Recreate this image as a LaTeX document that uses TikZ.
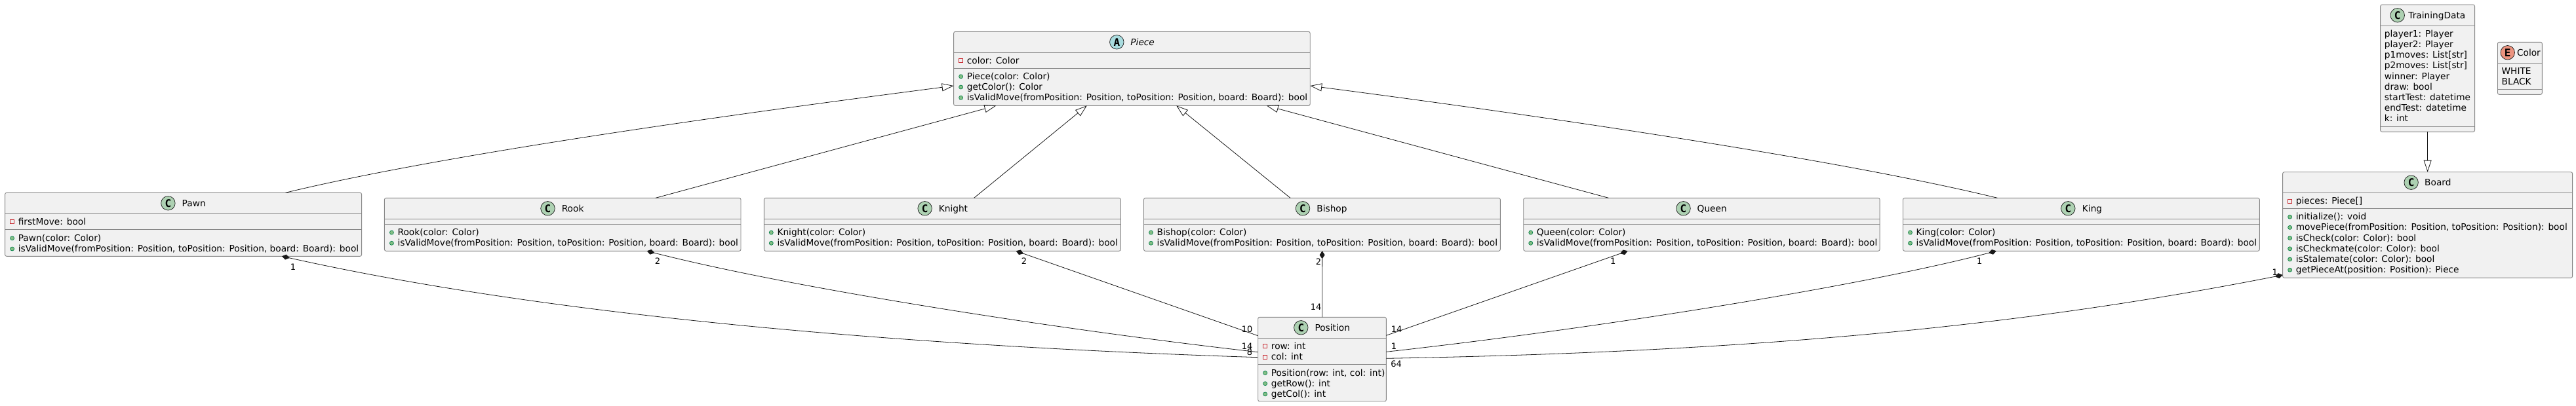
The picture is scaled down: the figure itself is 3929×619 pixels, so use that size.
\documentclass[tikz,border=0pt]{standalone}
\usepackage{fontspec}
\setmainfont{DejaVu Sans}
\newfontfamily\badgefont{DejaVu Sans Mono}
\usetikzlibrary{arrows.meta}

\definecolor{boxfill}{HTML}{F1F1F1}
\definecolor{boxline}{HTML}{858585}
\definecolor{inkline}{HTML}{181818}
\definecolor{badgeC}{HTML}{ADD1B2}
\definecolor{badgeA}{HTML}{A9DCDF}
\definecolor{badgeE}{HTML}{EB937F}
\definecolor{privline}{HTML}{C82930}
\definecolor{pubfill}{HTML}{84BE84}
\definecolor{publine}{HTML}{038048}

\tikzset{
	classbody/.style={draw=boxline, fill=boxfill, line width=0.9pt, rounded corners=2.5pt, inner sep=0pt, outer sep=0pt, anchor=north west},
	compart/.style={draw=boxline, line width=0.9pt},
	badge/.style={circle, draw=inkline, line width=0.7pt, minimum size=21.5pt, inner sep=0pt, font=\badgefont\bfseries\fontsize{16}{16}\selectfont},
	titletext/.style={anchor=base west, inner sep=0pt, font=\fontsize{13.72}{16}\selectfont},
	member/.style={anchor=base west, inner sep=0pt, font=\fontsize{13.72}{16}\selectfont},
	privmark/.style={rectangle, draw=privline, line width=0.7pt, minimum size=6pt, inner sep=0pt},
	pubmark/.style={circle, draw=publine, fill=pubfill, line width=0.7pt, minimum size=6pt, inner sep=0pt},
	multlabel/.style={inner sep=0pt, font=\fontsize{13}{15}\selectfont},
	extendsedge/.style={draw=inkline, line width=0.8pt, -{Triangle[open, length=18pt, width=12pt]}},
	partedge/.style={draw=inkline, line width=0.8pt, {Diamond[length=12pt, width=8pt]}-},
}

% name, left, top, width, height, offset of second separator
\newcommand{\classbox}[6]{
	\node[classbody, minimum width=#4pt, minimum height=#5pt] (#1) at (#2,#3) {};
	\draw[compart] ([yshift=-32pt]#1.north west) -- ([yshift=-32pt]#1.north east);
	\draw[compart] ([yshift=-#6pt]#1.north west) -- ([yshift=-#6pt]#1.north east);
}
% name, badge x, letter, badge colour, title x, title
\newcommand{\classhead}[6]{
	\path (#1.north west) ++(0,16) coordinate (#1-mid);
	\node[badge, fill=#4] (#1-badge) at (#2,0 |- #1-mid) {#3};
	\path (#5,0 |- #1-mid) ++(0,5) coordinate (#1-base);
	\node[titletext] (#1-title) at (#1-base) {#6};
}
% name, first baseline, list
\newcommand{\privrows}[3]{
	\foreach \txt [count=\i] in {#3} {
		\pgfmathsetmacro{\rowy}{#2+16.2*(\i-1)}
		\node[member] (#1-priv\i) at ([xshift=20pt, yshift=-\rowy pt]#1.north west) {\txt};
		\node[privmark] (#1-privm\i) at ([xshift=11pt, yshift=-\rowy pt+4.5pt]#1.north west) {};
	}
}
\newcommand{\pubrows}[3]{
	\foreach \txt [count=\i] in {#3} {
		\pgfmathsetmacro{\rowy}{#2+16.2*(\i-1)}
		\node[member] (#1-pub\i) at ([xshift=20pt, yshift=-\rowy pt]#1.north west) {\txt};
		\node[pubmark] (#1-pubm\i) at ([xshift=11pt, yshift=-\rowy pt+4.5pt]#1.north west) {};
	}
}
\newcommand{\plainrows}[3]{
	\foreach \txt [count=\i] in {#3} {
		\pgfmathsetmacro{\rowy}{#2+16.2*(\i-1)}
		\node[member] (#1-row\i) at ([xshift=6pt, yshift=-\rowy pt]#1.north west) {\txt};
	}
}

\begin{document}
\begin{tikzpicture}[x=1pt, y=-1pt]
	\useasboundingbox (0,0) rectangle (3929,619);

	% classes
	\classbox{Piece}{1454.6}{48.3}{543.6}{113}{56}
	\classhead{Piece}{1703.3}{A}{badgeA}{1724.2}{\textit{Piece}}
	\privrows{Piece}{49}{{color: Color}}
	\pubrows{Piece}{73}{{Piece(color: Color)},{getColor(): Color},{isValidMove(fromPosition: Position, toPosition: Position, board: Board): bool}}

	\classbox{Pawn}{7.6}{294.3}{544}{97}{56}
	\classhead{Pawn}{256.4}{C}{badgeC}{277.5}{Pawn}
	\privrows{Pawn}{49}{{firstMove: bool}}
	\pubrows{Pawn}{74}{{Pawn(color: Color)},{isValidMove(fromPosition: Position, toPosition: Position, board: Board): bool}}

	\classbox{Rook}{586.4}{302.3}{543.6}{81}{40}
	\classhead{Rook}{835.5}{C}{badgeC}{856.6}{Rook}
	\pubrows{Rook}{57.3}{{Rook(color: Color)},{isValidMove(fromPosition: Position, toPosition: Position, board: Board): bool}}

	\classbox{Knight}{1165.3}{302.3}{544}{81}{40}
	\classhead{Knight}{1410.6}{C}{badgeC}{1431.6}{Knight}
	\pubrows{Knight}{57.3}{{Knight(color: Color)},{isValidMove(fromPosition: Position, toPosition: Position, board: Board): bool}}

	\classbox{Bishop}{1744.5}{302.3}{543.8}{81}{40}
	\classhead{Bishop}{1987}{C}{badgeC}{2008.2}{Bishop}
	\pubrows{Bishop}{57.3}{{Bishop(color: Color)},{isValidMove(fromPosition: Position, toPosition: Position, board: Board): bool}}

	\classbox{Queen}{2323.7}{302.3}{543.4}{81}{40}
	\classhead{Queen}{2567.5}{C}{badgeC}{2588.5}{Queen}
	\pubrows{Queen}{57.3}{{Queen(color: Color)},{isValidMove(fromPosition: Position, toPosition: Position, board: Board): bool}}

	\classbox{King}{2902.5}{302.3}{543.8}{81}{40}
	\classhead{King}{3154.3}{C}{badgeC}{3175.7}{King}
	\pubrows{King}{57.3}{{King(color: Color)},{isValidMove(fromPosition: Position, toPosition: Position, board: Board): bool}}

	\classbox{Position}{1918.7}{484.3}{195.6}{128.7}{72}
	\classhead{Position}{1984.3}{C}{badgeC}{2005.3}{Position}
	\privrows{Position}{49}{{row: int},{col: int}}
	\pubrows{Position}{89.7}{{Position(row: int, col: int)},{getRow(): int},{getCol(): int}}

	\classbox{Board}{3481.6}{262.7}{442}{161.6}{56}
	\classhead{Board}{3677.6}{C}{badgeC}{3698}{Board}
	\privrows{Board}{49}{{pieces: Piece[]}}
	\pubrows{Board}{73}{{initialize(): void},{movePiece(fromPosition: Position, toPosition: Position): bool},{isCheck(color: Color): bool},{isCheckmate(color: Color): bool},{isStalemate(color: Color): bool},{getPieceAt(position: Position): Piece}}

	\classbox{TrainingData}{3630.6}{7.3}{144}{194}{186}
	\classhead{TrainingData}{3656.7}{C}{badgeC}{3673.2}{TrainingData}
	\plainrows{TrainingData}{49}{{player1: Player},{player2: Player},{p1moves: List[str]},{p2moves: List[str]},{winner: Player},{draw: bool},{startTest: datetime},{endTest: datetime},{k: int}}

	\classbox{Color}{3809.4}{64.3}{67.9}{80}{72}
	\classhead{Color}{3824.7}{E}{badgeE}{3838.8}{Color}
	\plainrows{Color}{49}{WHITE,BLACK}

	% inheritance
	\draw[extendsedge] ([xshift=427.9pt]Pawn.north west) .. controls (700,230) and (1200,164) .. ([yshift=-82.7pt]Piece.north west);
	\draw[extendsedge] ([xshift=413.6pt]Rook.north west) -- ([xshift=64.8pt]Piece.south west);
	\draw[extendsedge] ([xshift=320.3pt]Knight.north west) -- ([xshift=203.2pt]Piece.south west);
	\draw[extendsedge] ([xshift=223.5pt]Bishop.north west) -- ([xshift=339.6pt]Piece.south west);
	\draw[extendsedge] ([xshift=129.7pt]Queen.north west) -- ([xshift=477.2pt]Piece.south west);
	\draw[extendsedge] ([xshift=143.9pt]King.north west) .. controls (2774,236) and (2260,165) .. ([yshift=-82.7pt]Piece.north east);
	\draw[extendsedge] (TrainingData.south -| Board.north west) ++(221,0) -- ([xshift=221pt]Board.north west);

	% composition
	\draw[partedge] ([xshift=422.4pt]Pawn.south west) .. controls (850,485) and (1400,529) .. ([yshift=-61.4pt]Position.north west);
	\draw[partedge] ([xshift=400.3pt]Rook.south west) .. controls (1200,438) and (1600,501.7) .. ([yshift=-53.4pt]Position.north west);
	\draw[partedge] ([xshift=384.4pt]Knight.south west) -- ([yshift=-28.4pt]Position.north west);
	\draw[partedge] ([xshift=272.1pt]Bishop.south west) -- ([xshift=98pt]Position.north west);
	\draw[partedge] ([xshift=158.8pt]Queen.south west) -- ([yshift=-28pt]Position.north east);
	\draw[partedge] ([xshift=142.3pt]King.south west) .. controls (2835,438) and (2433,502) .. ([yshift=-53pt]Position.north east);
	\draw[partedge] ([yshift=4.3pt]Board.south west) .. controls (3100,495) and (2700,537) .. ([yshift=-63pt]Position.north east);

	% multiplicities
	\node[multlabel] (lblPawn) at (447,407.7) {1};
	\node[multlabel] (lblRook) at (1003,398.7) {2};
	\node[multlabel] (lblKnight) at (1562,398.7) {2};
	\node[multlabel] (lblBishop) at (2011,399.5) {2};
	\node[multlabel] (lblQueen) at (2460.3,398.7) {1};
	\node[multlabel] (lblKing) at (3019.2,398.7) {1};
	\node[multlabel] (lblBoard) at (3469.6,415.7) {1};
	\node[multlabel] (lblPosA) at (1902,502.7) {10};
	\node[multlabel] (lblPosB) at (1902,528.3) {14};
	\node[multlabel] (lblPosC) at (1906,537.7) {8};
	\node[multlabel] (lblPosD) at (2007,468.7) {14};
	\node[multlabel] (lblPosE) at (2130,502.7) {14};
	\node[multlabel] (lblPosF) at (2126,528.7) {1};
	\node[multlabel] (lblPosG) at (2129.7,555.7) {64};
\end{tikzpicture}
\end{document}
